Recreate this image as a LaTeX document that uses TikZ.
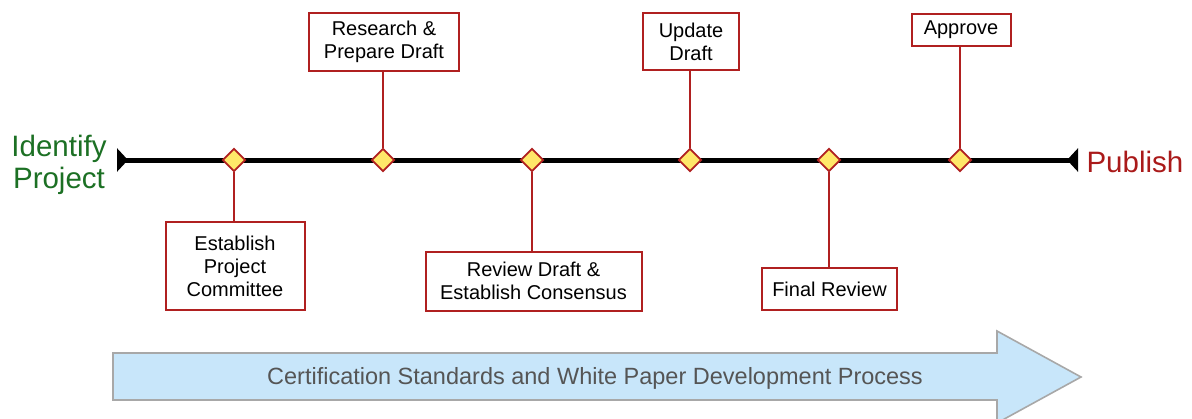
\documentclass[tikz,border=0pt]{standalone}
\usepackage{fontspec}
\setmainfont{Liberation Sans}
\usetikzlibrary{shapes.geometric,arrows.meta}
\definecolor{boxred}{RGB}{176,32,32}
\definecolor{pubred}{RGB}{170,26,26}
\definecolor{idgreen}{RGB}{28,112,36}
\definecolor{dmdfill}{RGB}{255,232,105}
\definecolor{arrowfill}{RGB}{200,230,250}
\definecolor{arrowline}{RGB}{168,168,168}
\definecolor{arrowtext}{RGB}{85,85,85}
\tikzset{
  stepbox/.style={draw=boxred, line width=2pt, fill=white, align=center,
    inner sep=0pt, font=\fontsize{20}{23}\selectfont},
  milestone/.style={diamond, draw=boxred, line width=1.8pt, fill=dmdfill,
    minimum size=23pt, inner sep=0pt},
  link/.style={draw=boxred, line width=1.6pt},
  endlabel/.style={font=\fontsize{29.5}{32}\selectfont, align=center}
}
\begin{document}
\begin{tikzpicture}[x=1pt,y=-1pt]
\useasboundingbox (0,0) rectangle (1192,418);

% process arrow along the bottom
\draw[fill=arrowfill, draw=arrowline, line width=1.6pt]
  (113,353) -- (997,353) -- (997,331) -- (1081,377) -- (997,423)
  -- (997,400) -- (113,400) -- cycle;
\node[text=arrowtext, font=\fontsize{23.5}{26}\selectfont] (proc) at (595,378)
  {Certification Standards and White Paper Development Process};

% timeline
\node[endlabel, text=idgreen] (start) at (59,164.5) {Identify\\Project};
\node[endlabel, text=pubred, anchor=west] (finish) at (1083,162) {Publish};
\coordinate (tl) at (117,160);
\coordinate (tr) at (1078,160);
\draw[line width=5pt, {Triangle[reversed,length=11pt,width=23pt]}-{Triangle[reversed,length=11pt,width=23pt]}]
  (tl) -- (tr);

% milestones
\node[milestone] (m1) at (234,160) {};
\node[milestone] (m2) at (383,160) {};
\node[milestone] (m3) at (532,160) {};
\node[milestone] (m4) at (690,160) {};
\node[milestone] (m5) at (829,160) {};
\node[milestone] (m6) at (960,160) {};

% step boxes
\node[stepbox, minimum width=139pt, minimum height=88pt] (b1) at (235,266)
  {Establish\\Project\\Committee};
\node[stepbox, minimum width=150pt, minimum height=58pt] (b2) at (384,42)
  {Research \&\\Prepare Draft};
\node[stepbox, minimum width=216pt, minimum height=59pt] (b3) at (533.5,281)
  {Review Draft \&\\Establish Consensus};
\node[stepbox, minimum width=96pt, minimum height=57pt] (b4) at (691,41.5)
  {Update\\Draft};
\node[stepbox, minimum width=135pt, minimum height=42pt] (b5) at (829.5,289)
  {Final Review};
\node[stepbox, minimum width=99pt, minimum height=32pt] (b6) at (961,29.5)
  {Approve};

% connectors
\draw[link] (m1.south) -- (m1.south |- b1.north);
\draw[link] (m2.north) -- (m2.north |- b2.south);
\draw[link] (m3.south) -- (m3.south |- b3.north);
\draw[link] (m4.north) -- (m4.north |- b4.south);
\draw[link] (m5.south) -- (m5.south |- b5.north);
\draw[link] (m6.north) -- (m6.north |- b6.south);
\end{tikzpicture}
\end{document}
